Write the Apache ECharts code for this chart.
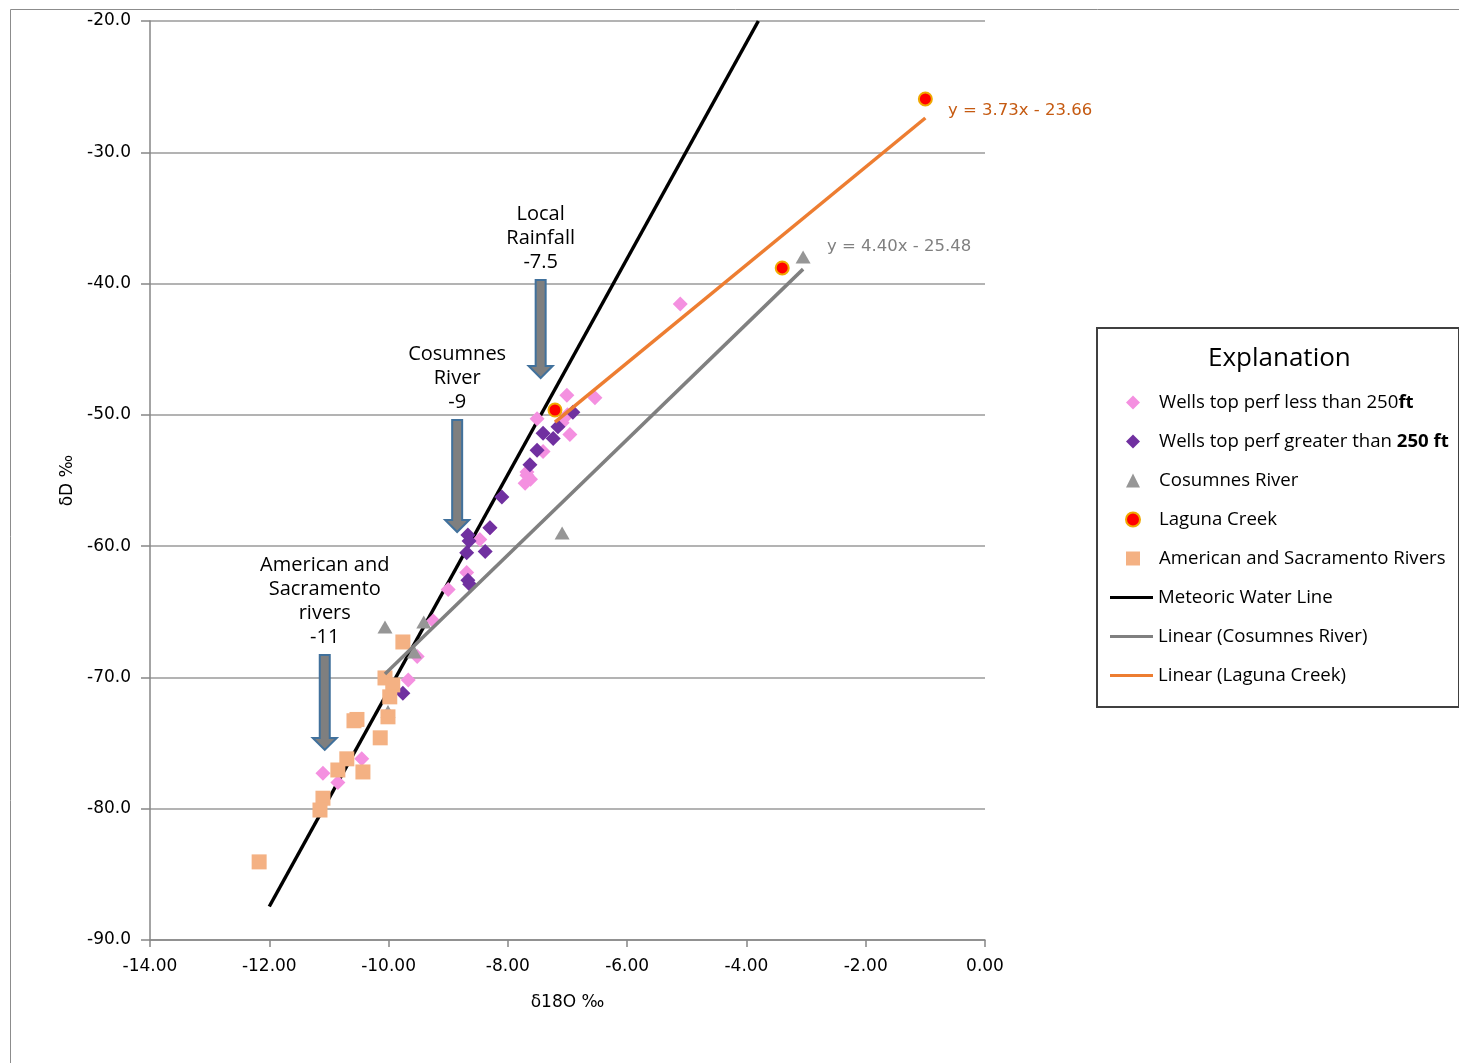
<!DOCTYPE html>
<html>
<head>
<meta charset="utf-8">
<script src="https://cdn.jsdelivr.net/npm/echarts@6/dist/echarts.min.js"></script>
<style>html,body{margin:0;padding:0;background:#fff;}#chart{width:1459px;height:1063px;}</style>
</head>
<body>
<div id="chart"></div>
<script>
// ---- data (δ18O ‰, δD ‰) ----
const wellsShallow = [
  [-9.25,-65.7],[-9.52,-68.4],[-9.67,-70.2],[-10.45,-76.2],[-11.10,-77.3],[-10.85,-78.0],
  [-9.00,-63.3],[-8.69,-62.0],[-8.47,-59.5],[-8.30,-58.6],[-7.68,-54.6],[-7.71,-55.2],
  [-7.62,-54.9],[-7.01,-48.5],[-6.54,-48.7],[-7.51,-50.3],[-7.09,-50.6],[-6.96,-51.5],
  [-7.41,-52.8],[-7.68,-54.35],[-7.00,-50.0],[-5.11,-41.55]
];
const wellsDeep = [
  [-6.91,-49.8],[-7.16,-50.9],[-7.41,-51.4],[-7.24,-51.8],[-7.51,-52.7],[-7.63,-53.8],
  [-8.10,-56.25],[-8.67,-59.15],[-8.65,-59.6],[-8.30,-58.6],[-8.38,-60.4],[-8.69,-60.5],
  [-8.67,-62.6],[-8.64,-62.9],[-9.76,-71.2]
];
const cosumnes = [[-3.05,-37.97],[-7.09,-59.0],[-10.06,-66.15],[-9.41,-65.77],[-9.57,-68.06],[-10.01,-72.6]];
const laguna = [[-7.21,-49.63],[-3.40,-38.81],[-1.00,-25.94]];
const americanSac = [
  [-9.76,-67.3],[-10.06,-70.04],[-9.93,-70.57],[-9.98,-71.48],[-10.53,-73.2],[-10.58,-73.3],
  [-10.01,-73.0],[-10.14,-74.6],[-10.70,-76.2],[-10.85,-77.05],[-10.43,-77.2],[-11.10,-79.2],
  [-11.15,-80.1],[-12.17,-84.05]
];
const meteoricLine = [[-12.0,-87.45],[-3.80,-20.0]];
const cosumnesTrend = [[-10.06,-69.74],[-3.05,-38.9]];
const lagunaTrend = [[-7.21,-50.55],[-1.00,-27.39]];

// annotation arrows
const arrowX = [-7.45, -8.85, -11.07];
const arrowTop = [-39.73, -50.39, -68.29];
const arrowTip = [-47.19, -58.92, -75.52];
const arrowText = ['Local\nRainfall\n-7.5', 'Cosumnes\nRiver\n-9', 'American and\nSacramento\nrivers\n-11'];

// trendline equations
const eqX = [-0.62, -2.65];
const eqY = [-26.85, -37.2];
const eqText = ['y = 3.73x - 23.66', 'y = 4.40x - 25.48'];
const eqColor = ['#c55a11', '#808080'];

// axis ticks
const xMin = -14, xMax = 0, xStep = 2;
const yMin = -90, yMax = -20, yStep = 10;

const markerNames = ['Wells top perf less than 250ft','Wells top perf greater than 250 ft','Cosumnes River','Laguna Creek','American and Sacramento Rivers'];
const lineNames = ['Meteoric Water Line','Linear (Cosumnes River)','Linear (Laguna Creek)'];

const chart = echarts.init(document.getElementById('chart'), null, {renderer:'canvas'});
const axisFont = 'DejaVu Sans';
const txtFont = 'Open Sans';
const legendText = {fontFamily: txtFont, fontSize: 18.6, color: '#000', lineHeight: 19,
  rich: {b: {fontFamily: txtFont, fontSize: 18.6, fontWeight: 'bold', color: '#000', lineHeight: 19}}};

const option = {
  animation: false,
  backgroundColor: '#ffffff',
  grid: {left: 150, right: 474, top: 21, bottom: 123, containLabel: false},
  xAxis: {
    type: 'value', min: xMin, max: xMax, interval: xStep,
    name: 'δ18O ‰', nameLocation: 'middle', nameGap: 54,
    nameTextStyle: {fontFamily: axisFont, fontSize: 17, color: '#000'},
    axisLine: {onZero: false, lineStyle: {color: '#868686', width: 1.5}},
    axisTick: {show: true, length: 7, lineStyle: {color: '#868686', width: 1.5}},
    axisLabel: {margin: 18, fontFamily: axisFont, fontSize: 17, color: '#000', formatter: v => v.toFixed(2)},
    splitLine: {show: false}
  },
  yAxis: {
    type: 'value', min: yMin, max: yMax, interval: yStep,
    name: 'δD ‰', nameLocation: 'middle', nameGap: 74, nameRotate: 90,
    nameTextStyle: {fontFamily: axisFont, fontSize: 17, color: '#000'},
    axisLine: {show: true, onZero: false, lineStyle: {color: '#868686', width: 1.5}},
    axisTick: {show: true, length: 9, lineStyle: {color: '#868686', width: 1.5}},
    axisLabel: {margin: 19, fontFamily: axisFont, fontSize: 17, color: '#000', formatter: v => v.toFixed(1)},
    splitLine: {show: true, lineStyle: {color: '#9a9a9a', width: 1.5}}
  },
  legend: [
    {
      orient: 'vertical', left: 1125, top: 393, padding: 0,
      itemWidth: 14, itemHeight: 14, itemGap: 20,
      data: markerNames,
      formatter: function (n) {
        if (n === markerNames[0]) return 'Wells top perf less than 250{b|ft}';
        if (n === markerNames[1]) return 'Wells top perf greater than {b|250 ft}';
        return n;
      },
      textStyle: Object.assign({padding: [0, 0, 0, 14]}, legendText)
    },
    {
      orient: 'vertical', left: 1110, top: 588, padding: 0,
      itemWidth: 43, itemHeight: 3, itemGap: 20,
      data: lineNames.map(n => ({name: n, icon: 'rect'})),
      textStyle: legendText
    }
  ],
  graphic: [
    {type: 'rect', left: 8, top: 7, shape: {width: 1470, height: 1070}, style: {fill: 'none', stroke: '#8c8c8c', lineWidth: 1}, z: -10},
    {type: 'rect', left: 1096, top: 327, shape: {width: 362, height: 379}, style: {fill: '#fff', stroke: '#404040', lineWidth: 2}, z: -5},
    {type: 'text', left: 1208, top: 346, style: {text: 'Explanation', font: '26px "Open Sans"', fill: '#000'}}
  ],
  series: [
    {name: lineNames[0], type: 'line', data: meteoricLine, showSymbol: false, symbol: 'none', z: 1,
     lineStyle: {color: '#000000', width: 3.5}, itemStyle: {color: '#000'}},
    {name: markerNames[0], type: 'scatter', data: wellsShallow, symbol: 'diamond', symbolSize: 15, z: 3,
     itemStyle: {color: '#f490e0', opacity: 1}},
    {name: markerNames[1], type: 'scatter', data: wellsDeep, symbol: 'diamond', symbolSize: 15, z: 3,
     itemStyle: {color: '#7030a0', opacity: 1}},
    {name: markerNames[2], type: 'scatter', data: cosumnes, symbol: 'triangle', symbolSize: [15, 13], z: 3,
     itemStyle: {color: '#969696', opacity: 1}},
    {name: markerNames[3], type: 'scatter', data: laguna, symbol: 'circle', symbolSize: 13, z: 4,
     itemStyle: {color: '#ff0000', borderColor: '#f0a800', borderWidth: 2, opacity: 1}},
    {name: markerNames[4], type: 'scatter', data: americanSac, symbol: 'rect', symbolSize: 15, z: 3,
     itemStyle: {color: '#f4b183', opacity: 1}},
    {name: lineNames[1], type: 'line', data: cosumnesTrend, showSymbol: false, symbol: 'none', z: 5,
     lineStyle: {color: '#808080', width: 3.5}, itemStyle: {color: '#808080'}},
    {name: lineNames[2], type: 'line', data: lagunaTrend, showSymbol: false, symbol: 'none', z: 5,
     lineStyle: {color: '#ed7d31', width: 3.5}, itemStyle: {color: '#ed7d31'}},
    {type: 'custom', z: 6, silent: true,
     data: arrowX.map((x, i) => [x, arrowTop[i], arrowTip[i], i]),
     renderItem: function (params, api) {
       const top = api.coord([api.value(0), api.value(1)]);
       const tip = api.coord([api.value(0), api.value(2)]);
       const x = top[0], y0 = top[1], y1 = tip[1];
       const sw = 5, hw = 12, hh = 12;
       return {type: 'group', children: [
         {type: 'polygon', shape: {points: [[x - sw, y0], [x + sw, y0], [x + sw, y1 - hh], [x + hw, y1 - hh], [x, y1], [x - hw, y1 - hh], [x - sw, y1 - hh]]},
          style: {fill: '#7f7f7f', stroke: '#41719c', lineWidth: 2}},
         {type: 'text', style: {text: arrowText[api.value(3)], x: x, y: y0 - 6, align: 'center', verticalAlign: 'bottom',
          font: '20px "Open Sans"', lineHeight: 24, fill: '#000'}}
       ]};
     }},
    {type: 'custom', z: 6, silent: true,
     data: eqX.map((x, i) => [x, eqY[i], i]),
     renderItem: function (params, api) {
       const p = api.coord([api.value(0), api.value(1)]);
       const i = api.value(2);
       return {type: 'text', style: {text: eqText[i], x: p[0], y: p[1], align: 'left', verticalAlign: 'middle',
         font: '16.5px "DejaVu Sans"', fill: eqColor[i]}};
     }}
  ]
};
chart.setOption(option);
</script>
</body>
</html>
